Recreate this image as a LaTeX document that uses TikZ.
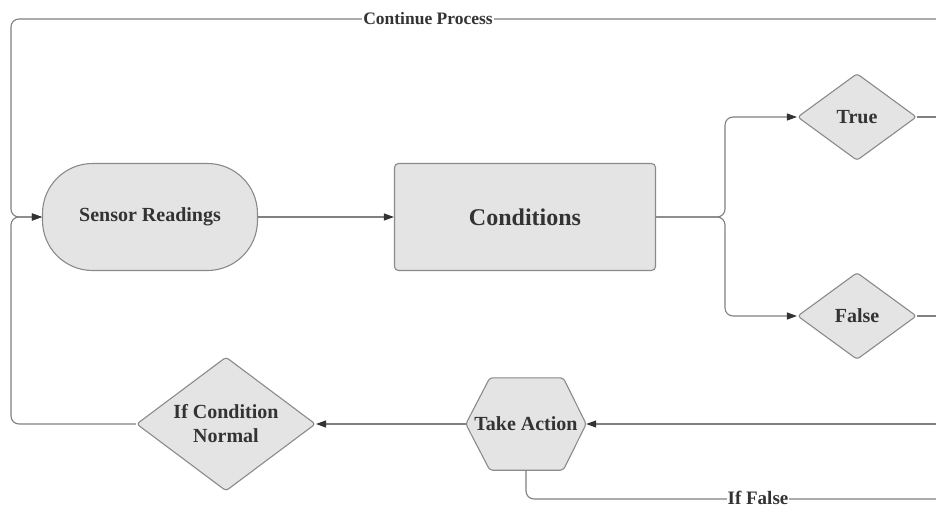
\documentclass[tikz,border=0pt]{standalone}
\usepackage{fontspec}
\setmainfont{Liberation Serif}
\usetikzlibrary{shapes.geometric,arrows.meta,backgrounds,calc}
\definecolor{boxfill}{HTML}{E4E4E4}
\definecolor{boxline}{HTML}{8A8A8A}
\definecolor{txt}{HTML}{333333}
\definecolor{wirec}{HTML}{808080}
\begin{document}
\begin{tikzpicture}[x=1pt,y=-1pt,
  box/.style={draw=boxline, fill=boxfill, line width=1.1pt, text=txt,
    font=\bfseries\fontsize{20}{24}\selectfont, inner sep=0pt, align=center},
  dia/.style={box, diamond, aspect=1.35, rounded corners=3pt},
  hexnode/.style={text=txt, font=\bfseries\fontsize{20}{24}\selectfont, inner sep=0pt,
    minimum width=120pt, minimum height=92pt},
  wire/.style={draw=wirec, line width=1.1pt, rounded corners=8pt},
  arr/.style={wire, -{Triangle[length=10pt,width=7pt,color=txt]}},
  lbl/.style={fill=white, text=txt, inner sep=1pt}]
\useasboundingbox (0,0) rectangle (936,508);

% nodes
\node[box, rounded corners=50pt, minimum width=215pt, minimum height=107pt] (sensor) at (150,217) {Sensor Readings};
\node[box, rounded corners=4pt, minimum width=261pt, minimum height=107pt,
  font=\bfseries\fontsize{24}{28}\selectfont] (cond) at (525,217) {Conditions};
\node[dia, minimum width=119pt, minimum height=87pt] (true) at (857,117) {True};
\node[dia, minimum width=119pt, minimum height=87pt] (false) at (857,316) {False};
\node[hexnode] (take) at (526,424) {Take Action};
\node[dia, minimum width=179pt, minimum height=134pt] (icn) at (226,424) {If Condition\\Normal};

\begin{scope}[on background layer]
  \draw[draw=boxline, fill=boxfill, line width=1.1pt, rounded corners=3pt]
    (take.west) -- ($(take.north west)+(24,0)$) -- ($(take.north east)+(-23,0)$)
    -- (take.east) -- ($(take.south east)+(-23,0)$) -- ($(take.south west)+(24,0)$) -- cycle;
\end{scope}

% coordinates
\coordinate (split) at (725,217);
\coordinate (lc) at (11,217);
\coordinate (tc) at (936,19);
\coordinate (tl) at (11,19);
\coordinate (trueout) at (936,117);
\coordinate (falseout) at (936,316);
\coordinate (takein) at (936,424);
\coordinate (rb) at (936,499);

% connectors
\draw[arr] (sensor.east) -- (cond.west);
\draw[arr] (cond.east) -- (split) |- (true.west);
\draw[arr] (cond.east) -- (split) |- (false.west);
\draw[wire] (true.east) -- (trueout);
\draw[wire] (false.east) -- (falseout);
\draw[arr] (takein) -- (take.east);
\draw[arr] (take.west) -- (icn.east);
\draw[wire] (take.south) |- (rb);
\draw[arr] (icn.west) -| (lc) -- (sensor.west);
\draw[arr] (tc) -- (tl) -- (lc) -- (sensor.west);

% labels
\node[lbl, font=\bfseries\fontsize{17.5}{20}\selectfont] (cp) at (428,19) {Continue Process};
\node[lbl, font=\bfseries\fontsize{19}{21}\selectfont] (iff) at (758,498) {If False};
\end{tikzpicture}
\end{document}
